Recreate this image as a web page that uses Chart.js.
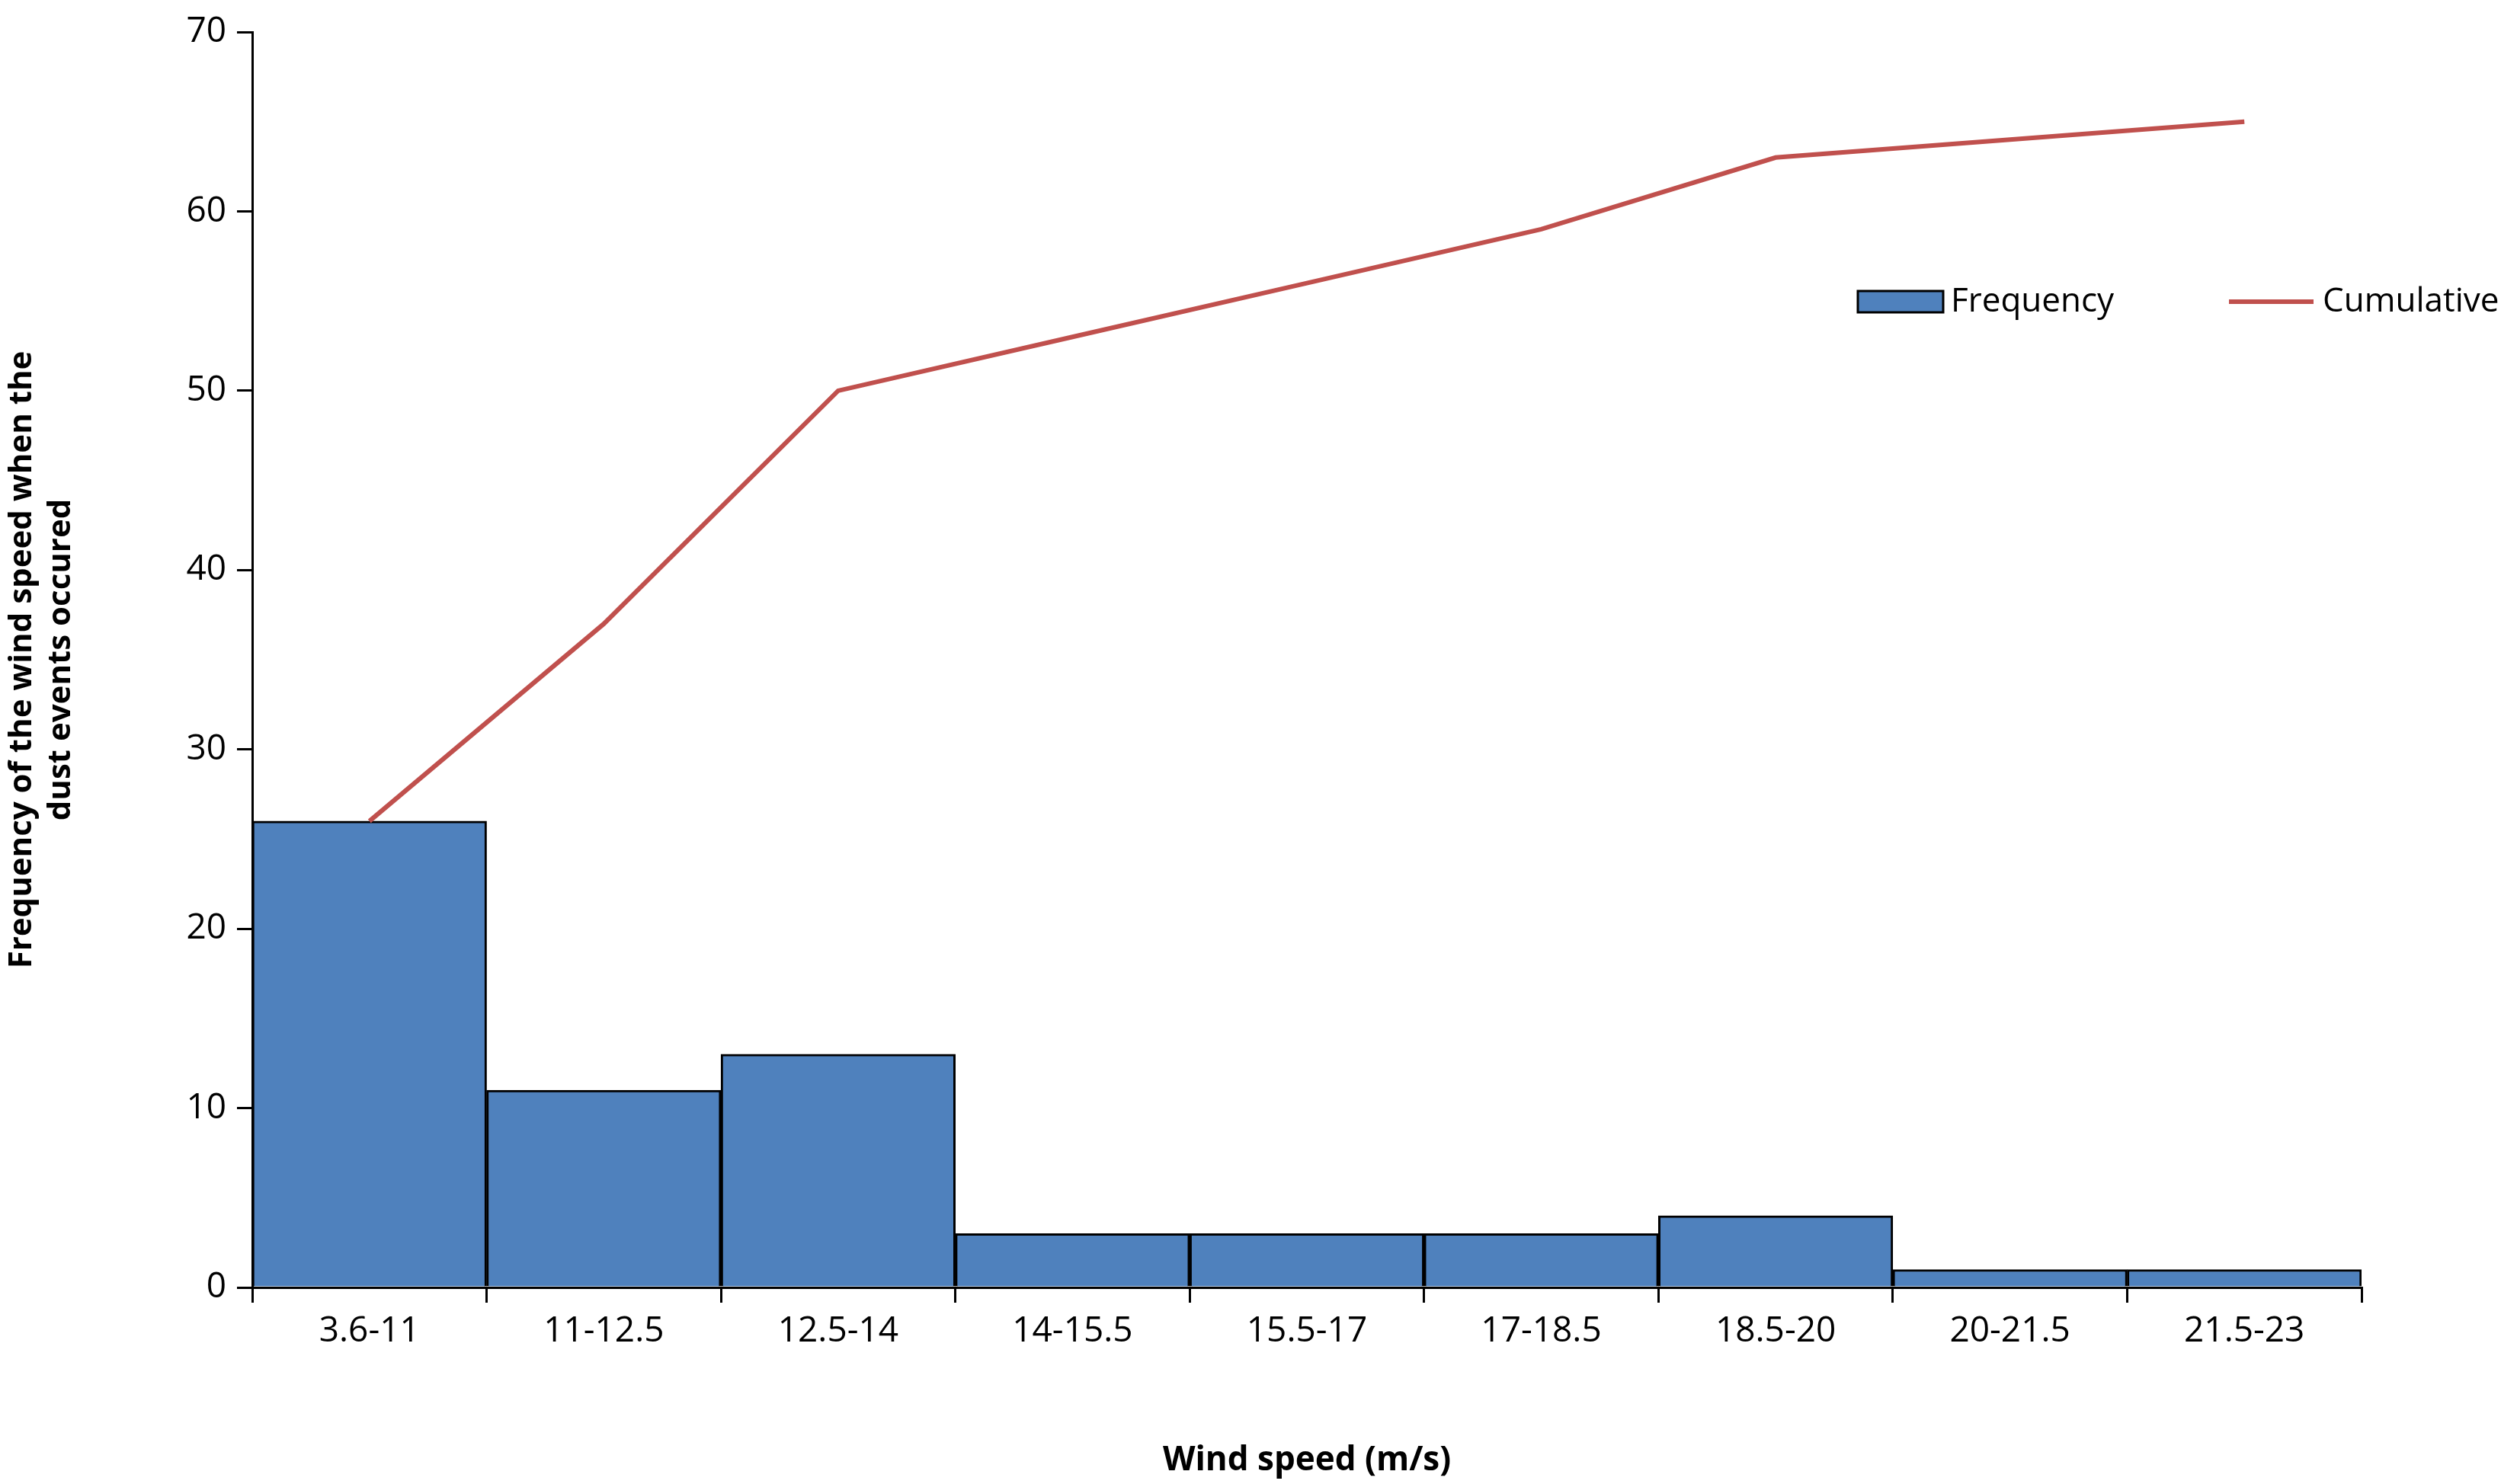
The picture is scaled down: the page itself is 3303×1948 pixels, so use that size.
<!DOCTYPE html>
<html>
<head>
<meta charset="utf-8">
<script src="https://cdn.jsdelivr.net/npm/chart.js@4"></script>
<style>
  html, body { margin: 0; padding: 0; background: #fff; }
  #wrap { width: 3303px; height: 1948px; }
</style>
</head>
<body>
<div id="wrap"><canvas id="chart" width="3303" height="1948"></canvas></div>
<script>
// Datos
const categorias = ['3.6-11', '11-12.5', '12.5-14', '14-15.5', '15.5-17', '17-18.5', '18.5-20', '20-21.5', '21.5-23'];
const frecuencia = [26, 11, 13, 3, 3, 3, 4, 1, 1];
const acumulado = [26, 37, 50, 53, 56, 59, 63, 64, 65];

const fuente = '"Open Sans", "Liberation Sans", sans-serif';

// Leyenda dibujada a mano, arriba a la derecha del area
const leyenda = {
    id: 'leyenda',
    afterDraw(chart) {
        const ctx = chart.ctx;
        const y = 396;
        ctx.save();
        ctx.fillStyle = '#4F81BD';
        ctx.strokeStyle = '#000';
        ctx.lineWidth = 3;
        ctx.fillRect(2438, y - 14, 112, 28);
        ctx.strokeRect(2438, y - 14, 112, 28);
        ctx.strokeStyle = '#C0504D';
        ctx.lineWidth = 6;
        ctx.beginPath();
        ctx.moveTo(2925, y);
        ctx.lineTo(3036, y);
        ctx.stroke();
        ctx.fillStyle = '#000';
        ctx.font = '44px ' + fuente;
        ctx.textBaseline = 'middle';
        ctx.fillText('Frequency', 2560, y);
        ctx.fillText('Cumulative', 3048, y);
        ctx.restore();
    }
};

new Chart(document.getElementById('chart'), {
    data: {
        labels: categorias,
        datasets: [
            {
                type: 'line',
                label: 'Cumulative',
                data: acumulado,
                borderColor: '#C0504D',
                borderWidth: 6,
                pointRadius: 0,
                tension: 0
            },
            {
                type: 'bar',
                label: 'Frequency',
                data: frecuencia,
                backgroundColor: '#4F81BD',
                borderColor: '#000',
                borderWidth: 3,
                barPercentage: 1,
                categoryPercentage: 1
            }
        ]
    },
    options: {
        responsive: false,
        animation: false,
        layout: { padding: { top: 42, right: 204, left: 0, bottom: 0 } },
        plugins: { legend: { display: false }, tooltip: { enabled: false } },
        scales: {
            x: {
                grid: { display: true, drawOnChartArea: false, color: '#000', lineWidth: 3, tickLength: 20, offset: true },
                border: { color: '#000', width: 3 },
                ticks: { color: '#000', font: { family: fuente, size: 46 }, padding: 10 },
                title: { display: true, text: 'Wind speed (m/s)', color: '#000', font: { family: fuente, size: 44, weight: 'bold' }, padding: { top: 50 } },
                afterFit(s) { s.height = 258; }
            },
            y: {
                min: 0, max: 70,
                ticks: { stepSize: 10, color: '#000', font: { family: fuente, size: 46 }, padding: 14 },
                grid: { display: true, drawOnChartArea: false, color: '#000', lineWidth: 3, tickLength: 20 },
                border: { color: '#000', width: 3 },
                title: { display: true, text: ['Frequency of the wind speed when the', 'dust events occured'], color: '#000', font: { family: fuente, size: 42, weight: 'bold' }, padding: { bottom: 40 } },
                afterFit(s) { s.width = 331; }
            }
        }
    },
    plugins: [leyenda]
});
</script>
</body>
</html>
